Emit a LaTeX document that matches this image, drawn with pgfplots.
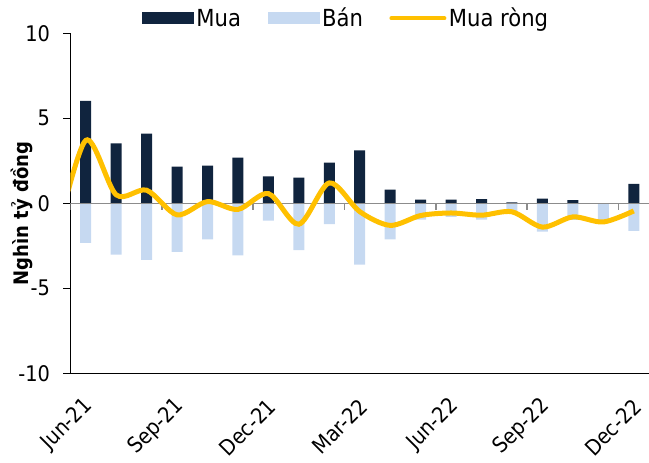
\documentclass[border=0pt]{standalone}
\usepackage{fontspec}
\setmainfont{DejaVu Sans Condensed}
\usepackage{pgfplots}
\usepackage{pgfplotstable}
\pgfplotsset{compat=1.18}
\definecolor{mua}{HTML}{10243E}
\definecolor{ban}{HTML}{C6D9F1}
\definecolor{rong}{HTML}{FFC000}
\definecolor{zline}{HTML}{8C8C8C}

% month index (0 = Jun-21), buy, sell (bn VND)
\pgfplotstableread{
i  mua   ban
0  6.02  -2.33
1  3.53  -3.02
2  4.10  -3.33
3  2.16  -2.86
4  2.22  -2.12
5  2.69  -3.06
6  1.59  -1.02
7  1.51  -2.76
8  2.39  -1.22
9  3.12  -3.61
10 0.80  -2.12
11 0.22  -0.96
12 0.22  -0.80
13 0.24  -0.96
14 0.06  -0.55
15 0.27  -1.67
16 0.18  -0.98
17 0.00  -1.12
18 1.14  -1.62
}\flows

% net buying; the point before Jun-21 only shapes the clipped start
\pgfplotstableread{
i  net
-1 -2.30
0  3.70
1  0.50
2  0.77
3  -0.68
4  0.10
5  -0.36
6  0.57
7  -1.23
8  1.20
9  -0.49
10 -1.30
11 -0.72
12 -0.57
13 -0.70
14 -0.50
15 -1.40
16 -0.80
17 -1.10
18 -0.45
}\netflow

\newcommand{\lbl}{\fontsize{21.5}{25}\selectfont}

\begin{document}
\begin{tikzpicture}
\useasboundingbox (-70.5pt,-89.7pt) rectangle (578.5pt,373.3pt);
\begin{axis}[
  scale only axis, width=578.5pt, height=340pt,
  xmin=-0.5, xmax=18.5, ymin=-10, ymax=10,
  axis x line*=bottom, axis y line*=left,
  axis line style={line width=1.4pt, black},
  ytick={-10,-5,0,5,10},
  xtick={0,3,...,18},
  xticklabels={Jun-21,Sep-21,Dec-21,Mar-22,Jun-22,Sep-22,Dec-22},
  tick align=outside, major tick length=7pt,
  ytick style={line width=1.4pt, black},
  xtick style={draw=none},
  /pgf/number format/assume math mode=true,
  yticklabel style={font=\lbl, xshift=-10pt},
  xticklabel style={font=\lbl, yshift=-20pt, xshift=6pt, rotate=45, anchor=east},
  ylabel={Nghìn tỷ đồng},
  every axis y label/.style={at={(axis description cs:-0.084,0.47)}, rotate=90,
    anchor=center, font=\fontsize{20}{24}\selectfont\bfseries},
  legend columns=3,
  legend style={draw=none, fill=none, font=\fontsize{23.5}{27}\selectfont,
    at={(axis description cs:0.118,1.044)}, anchor=west,
    nodes={inner xsep=2.5pt, inner ysep=1pt},
    /tikz/every even column/.append style={column sep=24pt}},
]
\addplot[ybar, bar width=11pt, bar shift=0pt, fill=mua, draw=none,
  legend image code/.code={\fill[mua] (0pt,-6pt) rectangle (52pt,6pt);}]
  table[x=i, y=mua] {\flows};
\addlegendentry{Mua}
\addplot[ybar, bar width=11pt, bar shift=0pt, fill=ban, draw=none,
  legend image code/.code={\fill[ban] (0pt,-6pt) rectangle (52pt,6pt);}]
  table[x=i, y=ban] {\flows};
\addlegendentry{Bán}
\addplot[zline, line width=1.5pt, forget plot] coordinates {(-0.5,0) (18.5,0)};
\pgfplotsinvokeforeach{-0.5,2.5,5.5,8.5,11.5,14.5,17.5}{
  \draw[zline, line width=1.5pt] (axis cs:#1,0) -- ++(0pt,-7pt);
}
\addplot[rong, line width=5pt, smooth,
  legend image code/.code={\draw[rong, line width=4pt, line cap=round] (2pt,0pt) -- (55pt,0pt);}]
  table[x=i, y=net] {\netflow};
\addlegendentry{Mua ròng}
\end{axis}
\end{tikzpicture}
\end{document}
